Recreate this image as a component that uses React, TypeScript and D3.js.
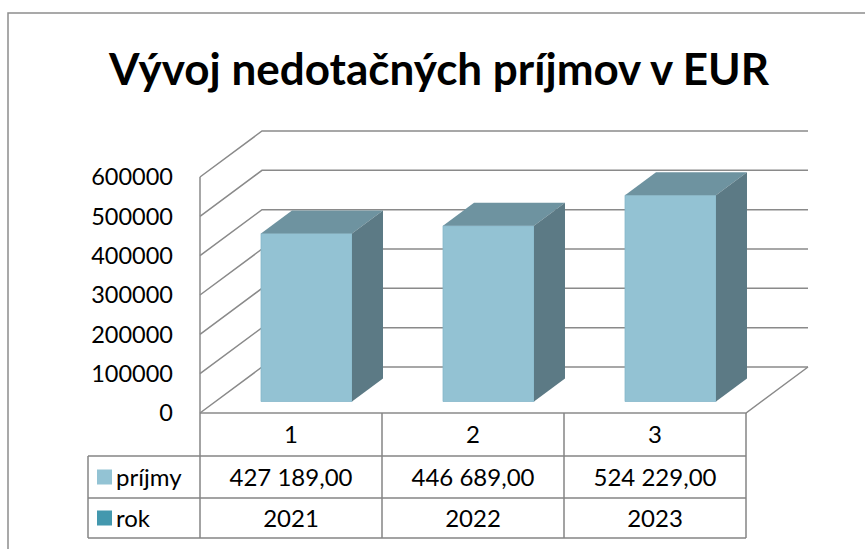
import React from 'react';
import * as d3 from 'd3';

const categories = ['1', '2', '3'];
const prijmy = [427189, 446689, 524229];
const roky = [2021, 2022, 2023];
const yTicks = [0, 100000, 200000, 300000, 400000, 500000, 600000];
const seriesNames = ['príjmy', 'rok'];
const seriesColors = ['#93c3d4', '#4398ae'];

const W = 865;
const H = 549;
const font = 'Lato, "Open Sans", sans-serif';

export default function App() {
  // 3d box: front plane + depth offset
  const floorY = 413;
  const depthX = 62;
  const depthY = -46;

  const xBand = d3.scaleBand<string>().domain(categories).range([200, 746]).paddingInner(0).paddingOuter(0);
  const hScale = d3.scaleLinear().domain([0, 600000]).range([0, 236]);
  const bw = xBand.bandwidth();

  const P = (x: number, h: number, d: number): [number, number] => [x + d * depthX, floorY + d * depthY - h];
  const poly = (pts: [number, number][]) => pts.map((p) => p.join(',')).join(' ');

  const fmt = d3.formatLocale({ decimal: ',', thousands: '\u00a0', grouping: [3], currency: ['', ''] }).format(',.2f');

  const gridColor = '#8a8a8a';
  const tableLine = '#848484';
  const backRight = 746 + depthX;

  const rowY = [413, 456, 498, 538];
  const legendLeft = 88;
  const colEdges = [...categories.map((c) => xBand(c) as number), 746];

  return (
    <svg width={W} height={H} style={{ position: 'absolute', left: 0, top: 0, background: '#fff' }}>
      <rect x={8} y={13} width={W} height={H} fill="none" stroke="#8d8d8d" strokeWidth={1.5} />

      <text x={439} y={85} textAnchor="middle" fontFamily={font} fontWeight="bold" fontSize={44} fill="#000">
        Vývoj nedotačných príjmov v EUR
      </text>

      {/* side wall + back wall gridlines */}
      {yTicks.map((t) => {
        const f = P(200, hScale(t), 0);
        const b = P(200, hScale(t), 1);
        return (
          <g key={t}>
            <polyline points={poly([f, b, [backRight, b[1]]])} fill="none" stroke={gridColor} strokeWidth={1.5} />
            <text x={173} y={f[1]} dy="0.36em" textAnchor="end" fontFamily={font} fontSize={23.5} fill="#000">
              {t}
            </text>
          </g>
        );
      })}
      <line x1={200} y1={P(200, hScale(600000), 0)[1]} x2={200} y2={floorY} stroke={gridColor} strokeWidth={1.5} />
      {/* floor */}
      <polyline points={poly([P(200, 0, 0), P(746, 0, 0), P(746, 0, 1)])} fill="none" stroke={gridColor} strokeWidth={1.5} />

      {/* bars */}
      {prijmy.map((v, i) => {
        const x0 = (xBand(categories[i]) as number) + bw * 0.25;
        const x1 = x0 + bw * 0.5;
        const h = hScale(v);
        const d0 = 0.25;
        const d1 = 0.75;
        return (
          <g key={categories[i]}>
            <polygon points={poly([P(x0, 0, d0), P(x1, 0, d0), P(x1, h, d0), P(x0, h, d0)])} fill="#93c2d3" stroke="#86b8ca" strokeWidth={0.8} />
            <polygon points={poly([P(x0, h, d0), P(x1, h, d0), P(x1, h, d1), P(x0, h, d1)])} fill="#6e93a0" />
            <polygon points={poly([P(x1, 0, d0), P(x1, 0, d1), P(x1, h, d1), P(x1, h, d0)])} fill="#5c7a85" />
          </g>
        );
      })}

      {/* data table */}
      <g stroke={tableLine} strokeWidth={1.5}>
        {rowY.slice(1).map((y) => (
          <line key={y} x1={legendLeft} x2={746} y1={y} y2={y} />
        ))}
        <line x1={legendLeft} x2={legendLeft} y1={rowY[1]} y2={rowY[3]} />
        {colEdges.map((x) => (
          <line key={x} x1={x} x2={x} y1={rowY[0]} y2={rowY[3]} />
        ))}
      </g>
      {categories.map((c) => (
        <text key={c} x={(xBand(c) as number) + bw / 2} y={(rowY[0] + rowY[1]) / 2} dy="0.36em" textAnchor="middle" fontFamily={font} fontSize={24}>
          {c}
        </text>
      ))}
      {[prijmy.map((v) => fmt(v)), roky.map(String)].map((row, r) => (
        <g key={r}>
          <rect x={97} y={(rowY[r + 1] + rowY[r + 2]) / 2 - 7.5} width={15} height={15} fill={seriesColors[r]} />
          <text x={116} y={(rowY[r + 1] + rowY[r + 2]) / 2} dy="0.36em" fontFamily={font} fontSize={24}>
            {seriesNames[r]}
          </text>
          {row.map((s, i) => (
            <text key={i} x={(xBand(categories[i]) as number) + bw / 2} y={(rowY[r + 1] + rowY[r + 2]) / 2} dy="0.36em" textAnchor="middle" fontFamily={font} fontSize={24}>
              {s}
            </text>
          ))}
        </g>
      ))}
    </svg>
  );
}
